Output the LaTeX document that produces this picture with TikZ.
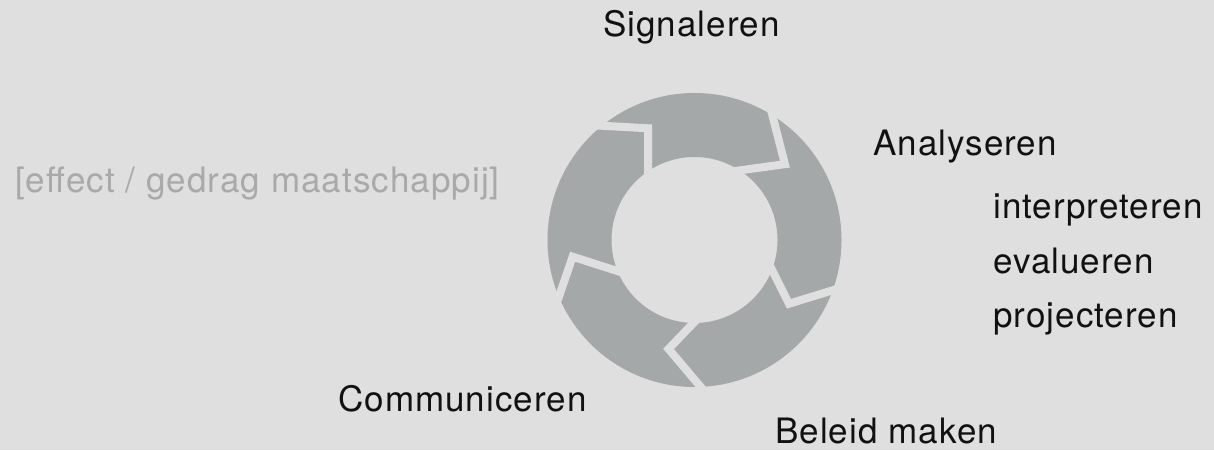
\documentclass[tikz,border=0pt]{standalone}
\usepackage{fontspec}
\setmainfont[LetterSpace=3]{TeX Gyre Heros}
\usetikzlibrary{calc}
\definecolor{bg}{HTML}{DFDFDF}
\definecolor{ring}{HTML}{A5A8A9}
\definecolor{soft}{HTML}{A9A9A9}
\definecolor{ink}{HTML}{111111}
\begin{document}
\begin{tikzpicture}[x=1pt,y=1pt,
  lbl/.style={anchor=base west, inner sep=0, text=ink, font=\fontsize{35}{42}\selectfont},
  gap/.style={draw=bg, line width=8, miter limit=10}]
\useasboundingbox (0,0) rectangle (1214,450);
\fill[bg] (0,0) rectangle (1214,450);
\coordinate (c) at (694.5,210);
\fill[ring, even odd rule] (c) circle[radius=147] (c) circle[radius=83];
\foreach \o/\t/\i/\r [count=\k] in {129/112.6/124/121, 58/40/57/118, -20/-34/-21/114, -87.6/-103.4/-90.7/112, 202.7/187.8/202/123} {
  \coordinate (go\k) at ($(c)+(\o:147)$);
  \coordinate (gt\k) at ($(c)+(\t:\r)$);
  \coordinate (gi\k) at ($(c)+(\i:83)$);
  \draw[gap] ($(gt\k)!1.4!(go\k)$) -- (gt\k) -- ($(gt\k)!1.5!(gi\k)$);
}
\node[lbl] (sig) at (603,413) {Signaleren};
\node[lbl] (ana) at (873,294) {Analyseren};
\node[lbl] (int) at (993,231) {interpreteren};
\node[lbl] (eva) at (993,176) {evalueren};
\node[lbl] (pro) at (993,123) {projecteren};
\node[lbl, text=soft] (eff) at (15,257) {[effect / gedrag maatschappij]};
\node[lbl] (com) at (338,39) {Communiceren};
\node[lbl] (bel) at (775,7) {Beleid maken};
\end{tikzpicture}
\end{document}
